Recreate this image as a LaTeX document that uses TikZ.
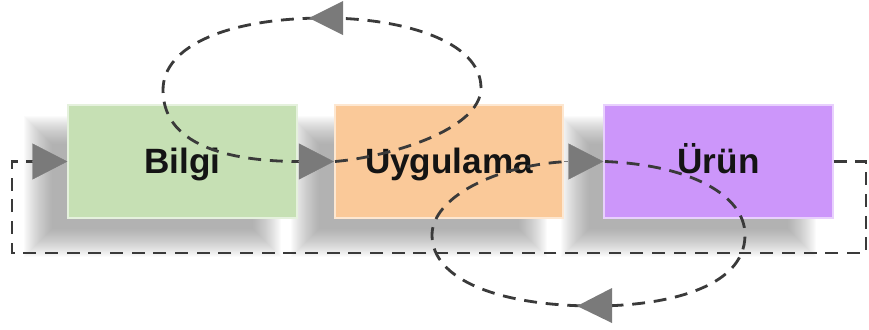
\documentclass[tikz,border=0pt]{standalone}
\usepackage{fontspec}
\setmainfont{Liberation Sans}
\usetikzlibrary{arrows.meta,calc}
\definecolor{bgreen}{RGB}{198,224,180}
\definecolor{borange}{RGB}{250,201,153}
\definecolor{bpurple}{RGB}{204,150,250}
\definecolor{arrowgray}{RGB}{122,122,122}
\definecolor{dashgray}{RGB}{58,58,58}
\newcommand\softshadow[4]{%
  \foreach \k in {-14,-13,...,14} {
    \fill[black!55, opacity=0.027] (#1+\k,#2+\k) rectangle (#3-\k,#4-\k);
  }}
\tikzset{
  stepbox/.style={minimum width=6.85cm, minimum height=3.39cm, inner sep=0pt,
    line width=1.6pt, font=\fontsize{30}{33}\selectfont\bfseries, text=black!92,
    text height=20pt, text depth=0pt},
  flowarrow/.style={arrowgray, line width=0.3pt, -{Triangle[length=1.05cm,width=1.08cm]}},
  dashline/.style={dashgray, line width=2.4pt, dash pattern=on 11pt off 7.5pt},
  tipfill/.style={fill=arrowgray}
}
\begin{document}
\begin{tikzpicture}[x=0.03cm, y=-0.03cm]
\useasboundingbox (0,0) rectangle (869,329);
% shadows
\softshadow{38}{130}{267}{243}
\softshadow{305}{130}{533}{243}
\softshadow{575}{130}{802}{243}
% boxes
\node[stepbox, fill=bgreen, draw=bgreen!45!white] (bilgi) at (182.5,161.5) {Bilgi};
\node[stepbox, fill=borange, draw=borange!45!white] (uyg) at (449,161.5) {Uygulama};
\node[stepbox, fill=bpurple, draw=bpurple!45!white] (urun) at (718.5,161.5) {Ürün};
% feedback loop
\coordinate (fbR) at (866,253);
\coordinate (fbL) at (12,253);
\coordinate (fbIn) at (34,161.5);
\draw[dashline] (urun.east) -| (fbR) -- (fbL) |- (fbIn);
% top loop
\coordinate (tA) at (335,161.5);
\coordinate (tB) at (481,88);
\coordinate (tC) at (325,18);
\coordinate (tD) at (163,90);
\coordinate (tE) at (300,161.5);
\draw[dashline] (tA) .. controls (388,157) and (481,130) .. (tB)
  .. controls (481,40) and (400,18) .. (tC)
  .. controls (230,18) and (163,45) .. (tD)
  .. controls (163,150) and (240,161.5) .. (tE);
% bottom loop
\coordinate (bA) at (605,161.5);
\coordinate (bB) at (745,235);
\coordinate (bC) at (595,306);
\coordinate (bD) at (432,235);
\coordinate (bE) at (568,161.5);
\draw[dashline] (bA) .. controls (690,165) and (745,195) .. (bB)
  .. controls (745,290) and (660,306) .. (bC)
  .. controls (500,306) and (432,280) .. (bD)
  .. controls (432,198) and (495,165) .. (bE);
% arrows between boxes
\draw[flowarrow] (fbIn) -- (bilgi.west);
\draw[flowarrow] (bilgi.east) -- (uyg.west);
\draw[flowarrow] (uyg.east) -- (urun.west);
% loop arrow heads
\fill[tipfill] (343,1) -- (309,18) -- (343,35) -- cycle;
\fill[tipfill] (612,288) -- (577,306) -- (612,323) -- cycle;
\end{tikzpicture}
\end{document}
